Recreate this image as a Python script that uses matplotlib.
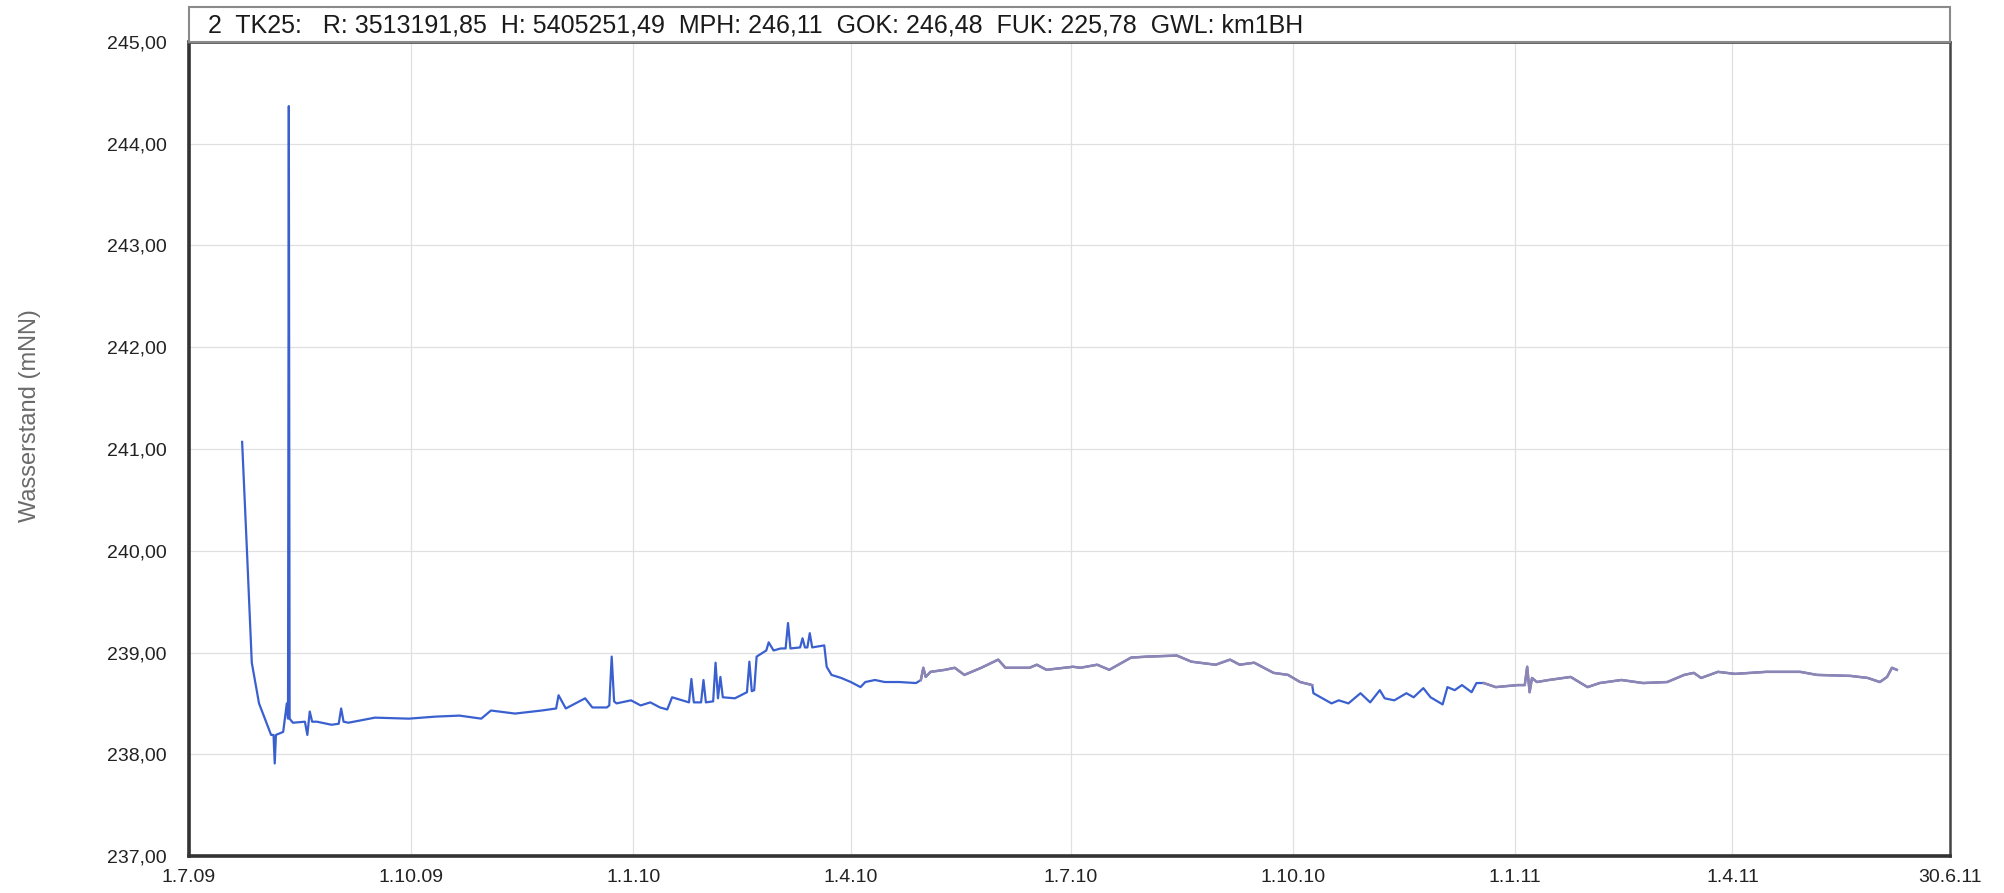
import matplotlib
matplotlib.use("Agg")
import matplotlib.pyplot as plt
import pandas as pd
from matplotlib.patches import Rectangle

plt.rcParams["font.family"] = ["Liberation Sans", "DejaVu Sans"]

# groundwater level readings (m NN)
dates = [
    "2009-07-23", "2009-07-25", "2009-07-27", "2009-07-30", "2009-08-04", "2009-08-05",
    "2009-08-05 12:00", "2009-08-06", "2009-08-09", "2009-08-10 12:00", "2009-08-11",
    "2009-08-11 08:00", "2009-08-11 16:00", "2009-08-13", "2009-08-18", "2009-08-19",
    "2009-08-20", "2009-08-21", "2009-08-23", "2009-08-29", "2009-09-01", "2009-09-02",
    "2009-09-03", "2009-09-05", "2009-09-16", "2009-09-30", "2009-10-11", "2009-10-21",
    "2009-10-30", "2009-11-03", "2009-11-13", "2009-11-24", "2009-11-30", "2009-12-01",
    "2009-12-04", "2009-12-08", "2009-12-12", "2009-12-15", "2009-12-21", "2009-12-22",
    "2009-12-23", "2009-12-24", "2009-12-25", "2009-12-31", "2010-01-04", "2010-01-08",
    "2010-01-12", "2010-01-15", "2010-01-17", "2010-01-24", "2010-01-25", "2010-01-26",
    "2010-01-29", "2010-01-30", "2010-01-31", "2010-02-03", "2010-02-04", "2010-02-05",
    "2010-02-06", "2010-02-07", "2010-02-12", "2010-02-17", "2010-02-18", "2010-02-19",
    "2010-02-20", "2010-02-21", "2010-02-25", "2010-02-26", "2010-02-28", "2010-03-03",
    "2010-03-05", "2010-03-06", "2010-03-07", "2010-03-11", "2010-03-12", "2010-03-13",
    "2010-03-14", "2010-03-15", "2010-03-16", "2010-03-21", "2010-03-22", "2010-03-24",
    "2010-03-28", "2010-04-01", "2010-04-05", "2010-04-07", "2010-04-11", "2010-04-15",
    "2010-04-21", "2010-04-28", "2010-04-30", "2010-05-01", "2010-05-02", "2010-05-04",
    "2010-05-10", "2010-05-14", "2010-05-18", "2010-05-25", "2010-06-01", "2010-06-04",
    "2010-06-14", "2010-06-17", "2010-06-21", "2010-07-02", "2010-07-05", "2010-07-12",
    "2010-07-17", "2010-07-26", "2010-08-02", "2010-08-14", "2010-08-20", "2010-08-30",
    "2010-09-05", "2010-09-09", "2010-09-15", "2010-09-23", "2010-09-29", "2010-10-04",
    "2010-10-09", "2010-10-09 12:00", "2010-10-17", "2010-10-20", "2010-10-24",
    "2010-10-29", "2010-11-02", "2010-11-06", "2010-11-08", "2010-11-12", "2010-11-17",
    "2010-11-20", "2010-11-24", "2010-11-27", "2010-12-02", "2010-12-04", "2010-12-07",
    "2010-12-10", "2010-12-14", "2010-12-16", "2010-12-19", "2010-12-24", "2011-01-02",
    "2011-01-05", "2011-01-06", "2011-01-07", "2011-01-08", "2011-01-10", "2011-01-15",
    "2011-01-24", "2011-01-31", "2011-02-05", "2011-02-14", "2011-02-23", "2011-03-05",
    "2011-03-12", "2011-03-16", "2011-03-19", "2011-03-26", "2011-04-02", "2011-04-15",
    "2011-04-29", "2011-05-06", "2011-05-20", "2011-05-27", "2011-06-01", "2011-06-04",
    "2011-06-06", "2011-06-08",
]
levels = [
    241.07, 240.00, 238.90, 238.50, 238.19, 238.19,
    237.91, 238.19, 238.22, 238.50, 238.35,
    244.37, 238.35, 238.31, 238.32, 238.19,
    238.42, 238.32, 238.32, 238.29, 238.30, 238.45,
    238.32, 238.31, 238.36, 238.35, 238.37, 238.38,
    238.35, 238.43, 238.40, 238.43, 238.45, 238.58,
    238.45, 238.50, 238.55, 238.46, 238.46, 238.48,
    238.96, 238.52, 238.50, 238.53, 238.48, 238.51,
    238.46, 238.44, 238.56, 238.51, 238.74, 238.51,
    238.51, 238.73, 238.51, 238.52, 238.90, 238.55,
    238.76, 238.56, 238.55, 238.61, 238.91, 238.62,
    238.63, 238.96, 239.02, 239.10, 239.02, 239.04,
    239.04, 239.29, 239.04, 239.05, 239.14, 239.05,
    239.05, 239.19, 239.05, 239.07, 238.86, 238.78,
    238.75, 238.71, 238.66, 238.71, 238.73, 238.71,
    238.71, 238.70, 238.73, 238.85, 238.76, 238.81,
    238.83, 238.85, 238.78, 238.85, 238.93, 238.85,
    238.85, 238.88, 238.83, 238.86, 238.85, 238.88,
    238.83, 238.95, 238.96, 238.97, 238.91, 238.88,
    238.93, 238.88, 238.90, 238.80, 238.78, 238.71,
    238.68, 238.60, 238.50, 238.53, 238.50,
    238.60, 238.51, 238.63, 238.55, 238.53, 238.60,
    238.56, 238.65, 238.56, 238.49, 238.66, 238.63,
    238.68, 238.61, 238.70, 238.70, 238.66, 238.68,
    238.68, 238.86, 238.61, 238.75, 238.71, 238.73,
    238.76, 238.66, 238.70, 238.73, 238.70, 238.71,
    238.78, 238.80, 238.75, 238.81, 238.79, 238.81,
    238.81, 238.78, 238.77, 238.75, 238.71, 238.76,
    238.85, 238.83,
]

# stretches where the scanned trace turns greyish-violet
faded_spans = [("2010-04-30", "2010-10-09"), ("2010-12-19", "2011-06-08")]

tick_dates = ["2009-07-01", "2009-10-01", "2010-01-01", "2010-04-01", "2010-07-01",
              "2010-10-01", "2011-01-01", "2011-04-01", "2011-06-30"]
tick_labels = ["1.7.09", "1.10.09", "1.1.10", "1.4.10", "1.7.10",
               "1.10.10", "1.1.11", "1.4.11", "30.6.11"]
y_ticks = [237, 238, 239, 240, 241, 242, 243, 244, 245]

header = ("2  TK25:   R: 3513191,85  H: 5405251,49  MPH: 246,11  "
          "GOK: 246,48  FUK: 225,78  GWL: km1BH")

series = pd.Series(levels, index=pd.to_datetime(dates, format="ISO8601"))

fig = plt.figure(figsize=(20.04, 8.93), dpi=100)
ax = fig.add_axes([0.0943, 0.0414, 0.8787, 0.9116])

ax.plot(series.index, series.values, color="#3a60d0", lw=1.6, zorder=3)
for start, end in faded_spans:
    mask = (series.index >= pd.Timestamp(start)) & (series.index <= pd.Timestamp(end))
    part = series[mask]
    ax.plot(part.index, part.values, color="#8e86b2", lw=1.8, zorder=4)

ax.set_xlim(pd.Timestamp(tick_dates[0]), pd.Timestamp(tick_dates[-1]))
ax.set_ylim(237, 245)
ax.set_xticks(pd.to_datetime(tick_dates))
ax.set_xticklabels(tick_labels)
ax.set_yticks(y_ticks)
ax.set_yticklabels([f"{v:.2f}".replace(".", ",") for v in y_ticks])
ax.tick_params(length=0, colors="#222222")
ax.tick_params(axis="x", labelsize=14, pad=9)
ax.tick_params(axis="y", labelsize=14, pad=16)
ax.grid(True, color="#e0e0e0", lw=0.9)

for side in ("left", "bottom"):
    ax.spines[side].set_linewidth(2.6)
    ax.spines[side].set_color("#333333")
ax.spines["right"].set_linewidth(1.8)
ax.spines["right"].set_color("#444444")
ax.spines["top"].set_linewidth(2.0)
ax.spines["top"].set_color("#555555")

fig.text(30 / 2004, 1 - 416 / 893, "Wasserstand (mNN)", fontsize=17, color="#6a6a6a",
         rotation=90, ha="center", va="center")

# header box above the plot
box_bottom = 0.9530
box = Rectangle((0.0943, box_bottom), 0.8787, 0.039, transform=fig.transFigure,
                facecolor="white", edgecolor="#8a8a8a", lw=1.5)
fig.patches.append(box)
fig.text(208 / 2004, 1 - 25 / 893, header, fontsize=18, color="#1a1a1a",
         va="center", ha="left")

fig.savefig("out.png", dpi=100)
